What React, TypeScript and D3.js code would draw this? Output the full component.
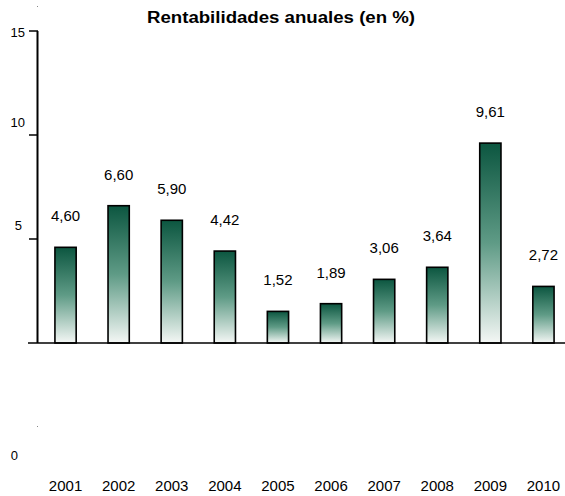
import { useRef, useEffect } from 'react'
import * as d3 from 'd3'

const years = ['2001', '2002', '2003', '2004', '2005', '2006', '2007', '2008', '2009', '2010']
const returns = [4.60, 6.60, 5.90, 4.42, 1.52, 1.89, 3.06, 3.64, 9.61, 2.72]
const yTicks = [15, 10, 5]
const title = 'Rentabilidades anuales (en %)'

const width = 565
const height = 496

export default function App() {
  const svgRef = useRef<SVGSVGElement>(null)

  useEffect(() => {
    if (!svgRef.current) return
    const svg = d3.select(svgRef.current)
    svg.selectAll('*').remove()

    const x = d3.scaleBand<string>()
      .domain(years)
      .range([39, 570])
      .paddingInner(0.6)
      .paddingOuter(0.3)

    const y = d3.scaleLinear().domain([0, 15]).range([343, 31])

    const defs = svg.append('defs')
    const grad = defs.append('linearGradient')
      .attr('id', 'barGrad')
      .attr('x1', 0).attr('y1', 0).attr('x2', 0).attr('y2', 1)
    grad.append('stop').attr('offset', '0%').attr('stop-color', '#0c5640')
    grad.append('stop').attr('offset', '50%').attr('stop-color', '#5f9b86')
    grad.append('stop').attr('offset', '100%').attr('stop-color', '#f4f7f5')

    const font = '"Liberation Sans", Arial, sans-serif'

    // title
    svg.append('text')
      .attr('x', 281)
      .attr('y', 23)
      .attr('text-anchor', 'middle')
      .attr('textLength', 268)
      .attr('lengthAdjust', 'spacingAndGlyphs')
      .style('font-family', font)
      .style('font-weight', 'bold')
      .style('font-size', '16px')
      .text(title)

    // tiny stray dots
    svg.append('rect').attr('x', 37).attr('y', 6).attr('width', 1).attr('height', 1).attr('fill', '#888')
    svg.append('rect').attr('x', 37).attr('y', 426).attr('width', 1).attr('height', 1).attr('fill', '#888')

    // bars
    svg.selectAll('.bar')
      .data(returns)
      .enter()
      .append('rect')
      .attr('class', 'bar')
      .attr('x', (d, i) => x(years[i])!)
      .attr('y', d => y(d))
      .attr('width', x.bandwidth())
      .attr('height', d => y(0) - y(d))
      .attr('fill', 'url(#barGrad)')
      .attr('stroke', '#000')
      .attr('stroke-width', 1.6)

    // value labels
    svg.selectAll('.val')
      .data(returns)
      .enter()
      .append('text')
      .attr('class', 'val')
      .attr('x', (d, i) => x(years[i])! + x.bandwidth() / 2)
      .attr('y', d => y(d) - 26)
      .attr('text-anchor', 'middle')
      .style('font-family', font)
      .style('font-size', '15px')
      .text(d => d.toFixed(2).replace('.', ','))

    // y axis line
    svg.append('line')
      .attr('x1', 37.5).attr('x2', 37.5)
      .attr('y1', y(15)).attr('y2', y(0))
      .attr('stroke', '#000').attr('stroke-width', 2)

    // baseline
    svg.append('line')
      .attr('x1', 28).attr('x2', width)
      .attr('y1', y(0)).attr('y2', y(0))
      .attr('stroke', '#000').attr('stroke-width', 1.5)

    // ticks
    svg.selectAll('.tick')
      .data(yTicks)
      .enter()
      .append('line')
      .attr('x1', 29).attr('x2', 38)
      .attr('y1', d => y(d)).attr('y2', d => y(d))
      .attr('stroke', '#000').attr('stroke-width', 1.5)

    // tick labels (oddly offset in the original)
    const labelShift: Record<number, number> = { 15: 6, 10: -8, 5: -9 }
    svg.selectAll('.tlab')
      .data(yTicks)
      .enter()
      .append('text')
      .attr('x', d => (d >= 10 ? 25 : 22))
      .attr('y', d => y(d) + labelShift[d])
      .attr('text-anchor', 'end')
      .style('font-family', font)
      .style('font-size', '13px')
      .text(d => d)

    svg.append('text')
      .attr('x', 18)
      .attr('y', 460)
      .attr('text-anchor', 'end')
      .style('font-family', font)
      .style('font-size', '13px')
      .text('0')

    // year labels
    svg.selectAll('.year')
      .data(years)
      .enter()
      .append('text')
      .attr('x', d => x(d)! + x.bandwidth() / 2)
      .attr('y', 491)
      .attr('text-anchor', 'middle')
      .style('font-family', font)
      .style('font-size', '15px')
      .text(d => d)
  }, [])

  return (
    <svg
      ref={svgRef}
      width={width}
      height={height}
      style={{ position: 'absolute', left: 0, top: 0, background: '#fff' }}
    />
  )
}
